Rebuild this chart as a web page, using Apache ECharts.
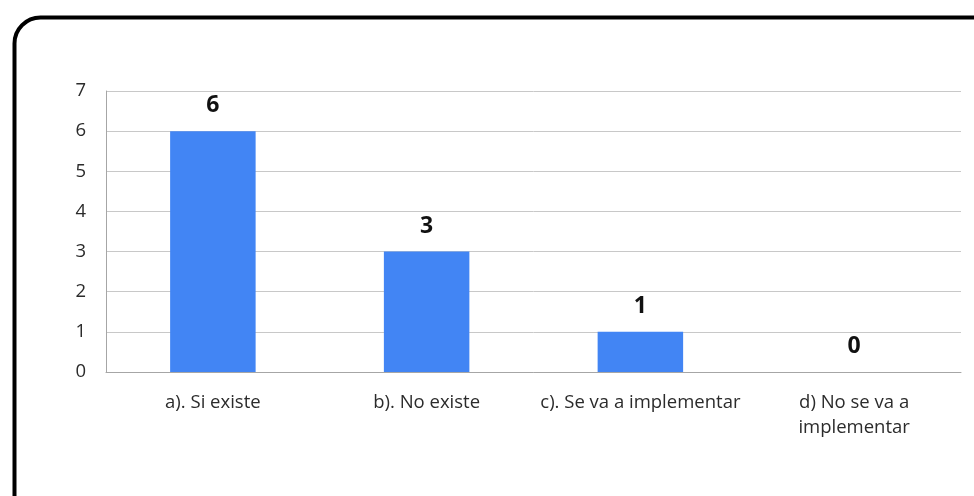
<!DOCTYPE html>
<html><head><meta charset="utf-8">
<script src="https://cdn.jsdelivr.net/npm/echarts@6/dist/echarts.min.js"></script>
<style>html,body{margin:0;padding:0;background:#fff}#c{width:974px;height:496px}</style>
</head><body><div id="c"></div>
<script>
const categories = ['a). Si existe', 'b). No existe', 'c). Se va a implementar', 'd) No se va a\nimplementar'];
const values = [6, 3, 1, 0];
const yTicks = [0, 1, 2, 3, 4, 5, 6, 7];

const chart = echarts.init(document.getElementById('c'));
chart.setOption({
  animation: false,
  backgroundColor: '#fff',
  graphic: [{
    type: 'rect', left: 12, top: 15, z: 100,
    shape: { width: 990, height: 520, r: 26 },
    style: { fill: 'none', stroke: '#000', lineWidth: 4 }
  }],
  grid: { left: 106, right: 13, top: 91, bottom: 124 },
  xAxis: {
    type: 'category', data: categories,
    axisLine: { lineStyle: { color: '#a6a6a6', width: 1 } },
    axisTick: { show: false },
    axisLabel: { color: '#2b2b2b', fontFamily: 'Open Sans', fontSize: 18.5, margin: 18, lineHeight: 25, interval: 0 }
  },
  yAxis: {
    type: 'value', min: 0, max: 7, interval: 1,
    axisLine: { show: true, lineStyle: { color: '#a6a6a6', width: 1 } },
    axisTick: { show: false },
    splitLine: { lineStyle: { color: '#c8c8c8', width: 1 } },
    axisLabel: { color: '#2b2b2b', fontFamily: 'Open Sans', fontSize: 18.5, margin: 20,
      formatter: v => yTicks.includes(v) ? String(v) : '' }
  },
  series: [{
    type: 'bar', data: values, barWidth: '40%',
    itemStyle: { color: '#4285F4' },
    label: { show: true, position: 'top', distance: 14, color: '#111', fontWeight: 'bold', fontSize: 23, fontFamily: 'Open Sans' }
  }]
});
</script></body></html>
